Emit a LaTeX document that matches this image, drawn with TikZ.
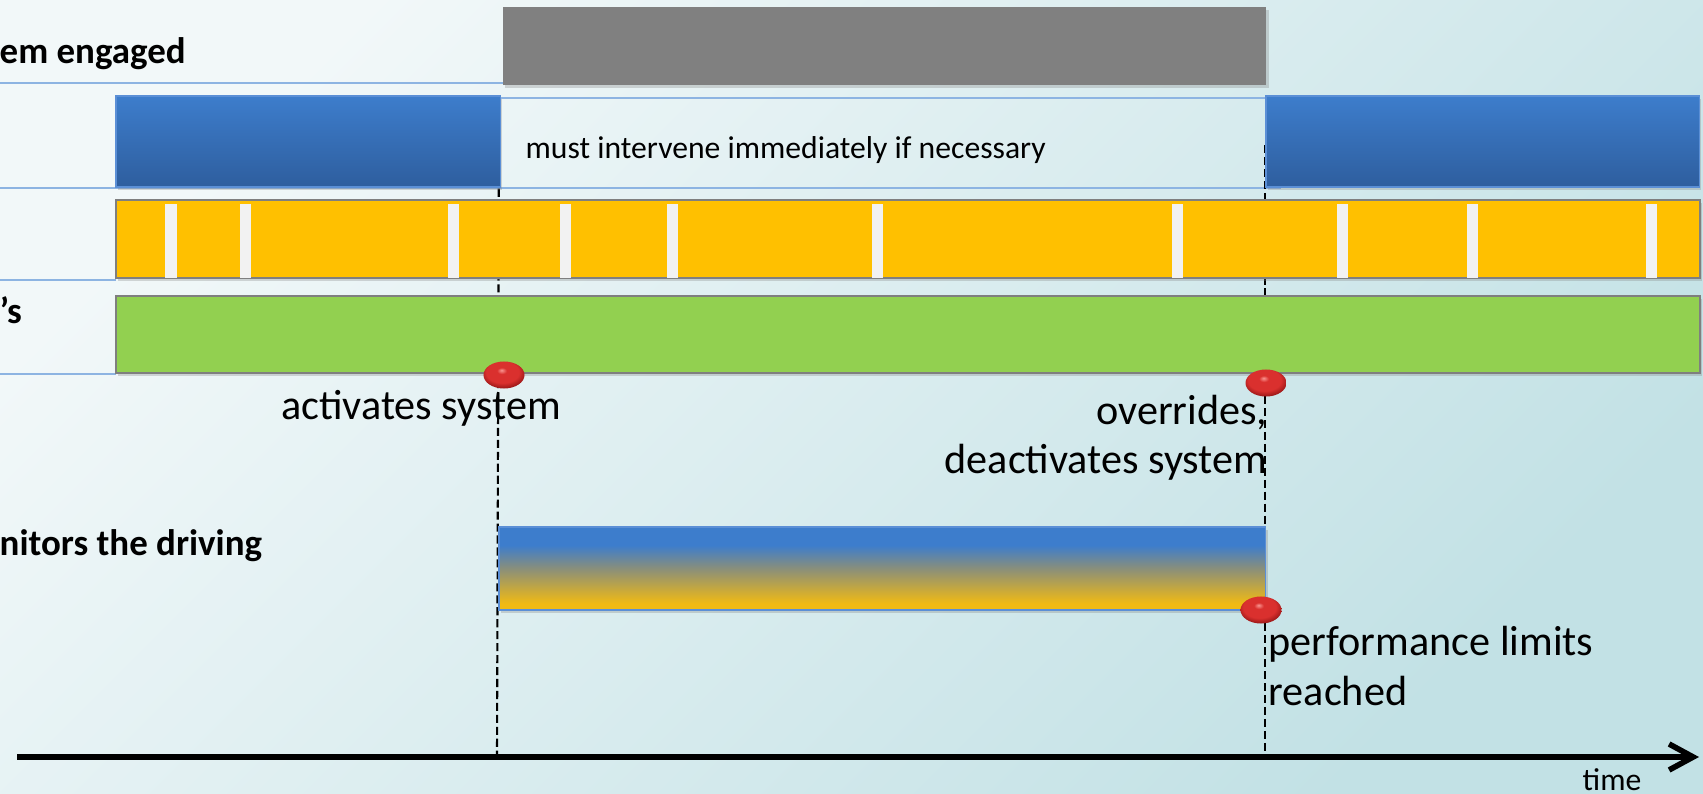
\documentclass[tikz,border=0pt]{standalone}
\usepackage{fontspec}
\setmainfont{Carlito}
\usetikzlibrary{positioning, shapes.geometric, arrows.meta, calc, shadows}

\definecolor{bgLight}{RGB}{242,248,249}
\definecolor{bgDark}{RGB}{194,225,229}
\definecolor{drvBlueTop}{RGB}{61,125,204}
\definecolor{drvBlueBot}{RGB}{46,94,158}
\definecolor{drvEdge}{RGB}{91,143,214}
\definecolor{rowLine}{RGB}{141,180,226}
\definecolor{sysGray}{RGB}{128,128,128}
\definecolor{taskYellow}{RGB}{255,192,0}
\definecolor{gapWhite}{RGB}{242,242,242}
\definecolor{respGreen}{RGB}{146,208,80}
\definecolor{monMid}{RGB}{138,143,122}
\definecolor{monYellow}{RGB}{240,186,20}
\definecolor{edgeGray}{RGB}{127,127,127}
\definecolor{evHi}{RGB}{250,150,145}
\definecolor{evRed}{RGB}{218,48,46}
\definecolor{evDark}{RGB}{150,22,22}

% blue on top, yellow at the bottom (path spans 25bp..75bp)
\pgfdeclareverticalshading{monshade}{100bp}{%
  color(0bp)=(monYellow); color(29bp)=(monYellow); color(50bp)=(monMid);
  color(64bp)=(drvBlueTop); color(100bp)=(drvBlueTop)}
% glossy red bead, highlight up and to the left
\pgfdeclareradialshading{evshade}{\pgfpoint{-3bp}{9bp}}{%
  color(0bp)=(evHi); color(6bp)=(evRed); color(20bp)=(evRed);
  color(29bp)=(evDark); color(50bp)=(evDark)}

\tikzset{
  bar/.style     = {rectangle, anchor=north west, inner sep=0pt, outer sep=0pt,
                    drop shadow={shadow xshift=0.6pt, shadow yshift=-0.8pt, opacity=0.3}},
  sysbar/.style  = {bar, fill=sysGray},
  drvbar/.style  = {bar, top color=drvBlueTop, bottom color=drvBlueBot,
                    draw=drvEdge, line width=0.4pt, minimum height=0.91cm},
  taskbar/.style = {bar, fill=taskYellow, draw=edgeGray, line width=0.6pt,
                    minimum width=15.83cm, minimum height=0.78cm},
  gapbar/.style  = {rectangle, anchor=north, inner sep=0pt, fill=gapWhite,
                    minimum width=0.11cm, minimum height=0.74cm},
  respbar/.style = {bar, fill=respGreen, draw=edgeGray, line width=0.6pt,
                    minimum width=15.83cm, minimum height=0.77cm},
  monbar/.style  = {bar, shading=monshade, draw=drvEdge, line width=0.4pt},
  event/.style   = {ellipse, shading=evshade,
                    minimum width=0.41cm, minimum height=0.27cm, inner sep=0pt},
  rowlbl/.style  = {anchor=west, inner sep=0pt,
                    font=\bfseries\fontsize{10.5}{12}\selectfont},
  evtxt/.style   = {inner sep=0pt, font=\fontsize{12}{14}\selectfont},
  rowline/.style = {draw=rowLine, line width=0.5pt},
  marker/.style  = {dash pattern=on 2.3pt off 1.1pt, line width=0.6pt},
  timeax/.style  = {line width=1.6pt, -{Straight Barb[length=0.24cm, width=0.26cm, line width=1.6pt]}},
}

\begin{document}
\begin{tikzpicture}[x=0.01cm, y=-0.01cm]

% ────────────────────────────────────────────────────────────
%  Units are pixels of the 1703 x 794 frame
%   rows    : system y=7, driver y=96, task y=200,
%             responsibility y=296, monitoring y=527
%   markers : switch-on x=498, switch-off x=1265
% ────────────────────────────────────────────────────────────
\useasboundingbox (0,0) rectangle (1703,794);
\shade[top color=bgLight, bottom color=bgDark, shading angle=45]
  (0,0) rectangle (1703,794);

% ═══════════════════════════════════════════════════════════
%  ROW LINES and row labels (cut off at the left edge)
% ═══════════════════════════════════════════════════════════
\draw[rowline] (0,83)   -- (503,83);
\draw[rowline] (499,98) -- (1266,98);
\draw[rowline] (0,188)  -- (1281,188);
\draw[rowline] (0,280)  -- (116,280);
\draw[rowline] (0,374)  -- (116,374);

\node[rowlbl] (lbl-sys)  at (-1,54)  {em engaged};
\node[rowlbl] (lbl-resp) at (-1,310) {’s};
\node[rowlbl] (lbl-mon)  at (-1,546) {nitors the driving};

% ═══════════════════════════════════════════════════════════
%  MARKERS  –  dashed verticals down to the time axis
% ═══════════════════════════════════════════════════════════
\coordinate (on-top)  at (499,117);
\coordinate (on-bot)  at (497,757);
\coordinate (off-top) at (1265,145);
\coordinate (off-bot) at (1265,757);
\draw[marker] (on-top)  -- (on-bot);
\draw[marker] (off-top) -- (off-bot);

% ═══════════════════════════════════════════════════════════
%  BARS
% ═══════════════════════════════════════════════════════════
\node[sysbar, minimum width=7.63cm, minimum height=0.78cm] (sys) at (503,7) {};

\node[drvbar, minimum width=3.84cm] (drv1) at (116,96)  {};
\node[drvbar, minimum width=4.33cm] (drv2) at (1266,96) {};
\node[anchor=west, inner sep=0pt, font=\fontsize{9}{11}\selectfont]
  (band-txt) at (525,150) {must intervene immediately if necessary};

\node[taskbar] (task) at (116,200) {};
\foreach \gx in {171,245,453,565,672,877,1177,1342,1472,1651}
  \node[gapbar] (gap-\gx) at (\gx,203) {};

\node[respbar] (resp) at (116,296) {};

\node[monbar, minimum width=7.66cm, minimum height=0.83cm] (mon) at (499,527) {};

% ═══════════════════════════════════════════════════════════
%  EVENTS
% ═══════════════════════════════════════════════════════════
\node[event] (ev-on)  at (504,375)  {};
\node[event] (ev-off) at (1266,383) {};
\node[event] (ev-lim) at (1261,610) {};

\node[evtxt] (txt-on) at (421,408) {activates system};
\node[evtxt, anchor=east, align=right] (txt-off) at (1268,438)
  {overrides,\\deactivates system};
\node[evtxt, anchor=west, align=left] (txt-lim) at (1268,666)
  {performance limits\\reached};

% ═══════════════════════════════════════════════════════════
%  TIME AXIS
% ═══════════════════════════════════════════════════════════
\coordinate (t-start) at (17,757);
\coordinate (t-end)   at (1699,757);
\draw[timeax] (t-start) -- (t-end);
\node[inner sep=0pt, font=\fontsize{9}{11}\selectfont] (t-lbl) at (1612,780) {time};

\end{tikzpicture}
\end{document}
